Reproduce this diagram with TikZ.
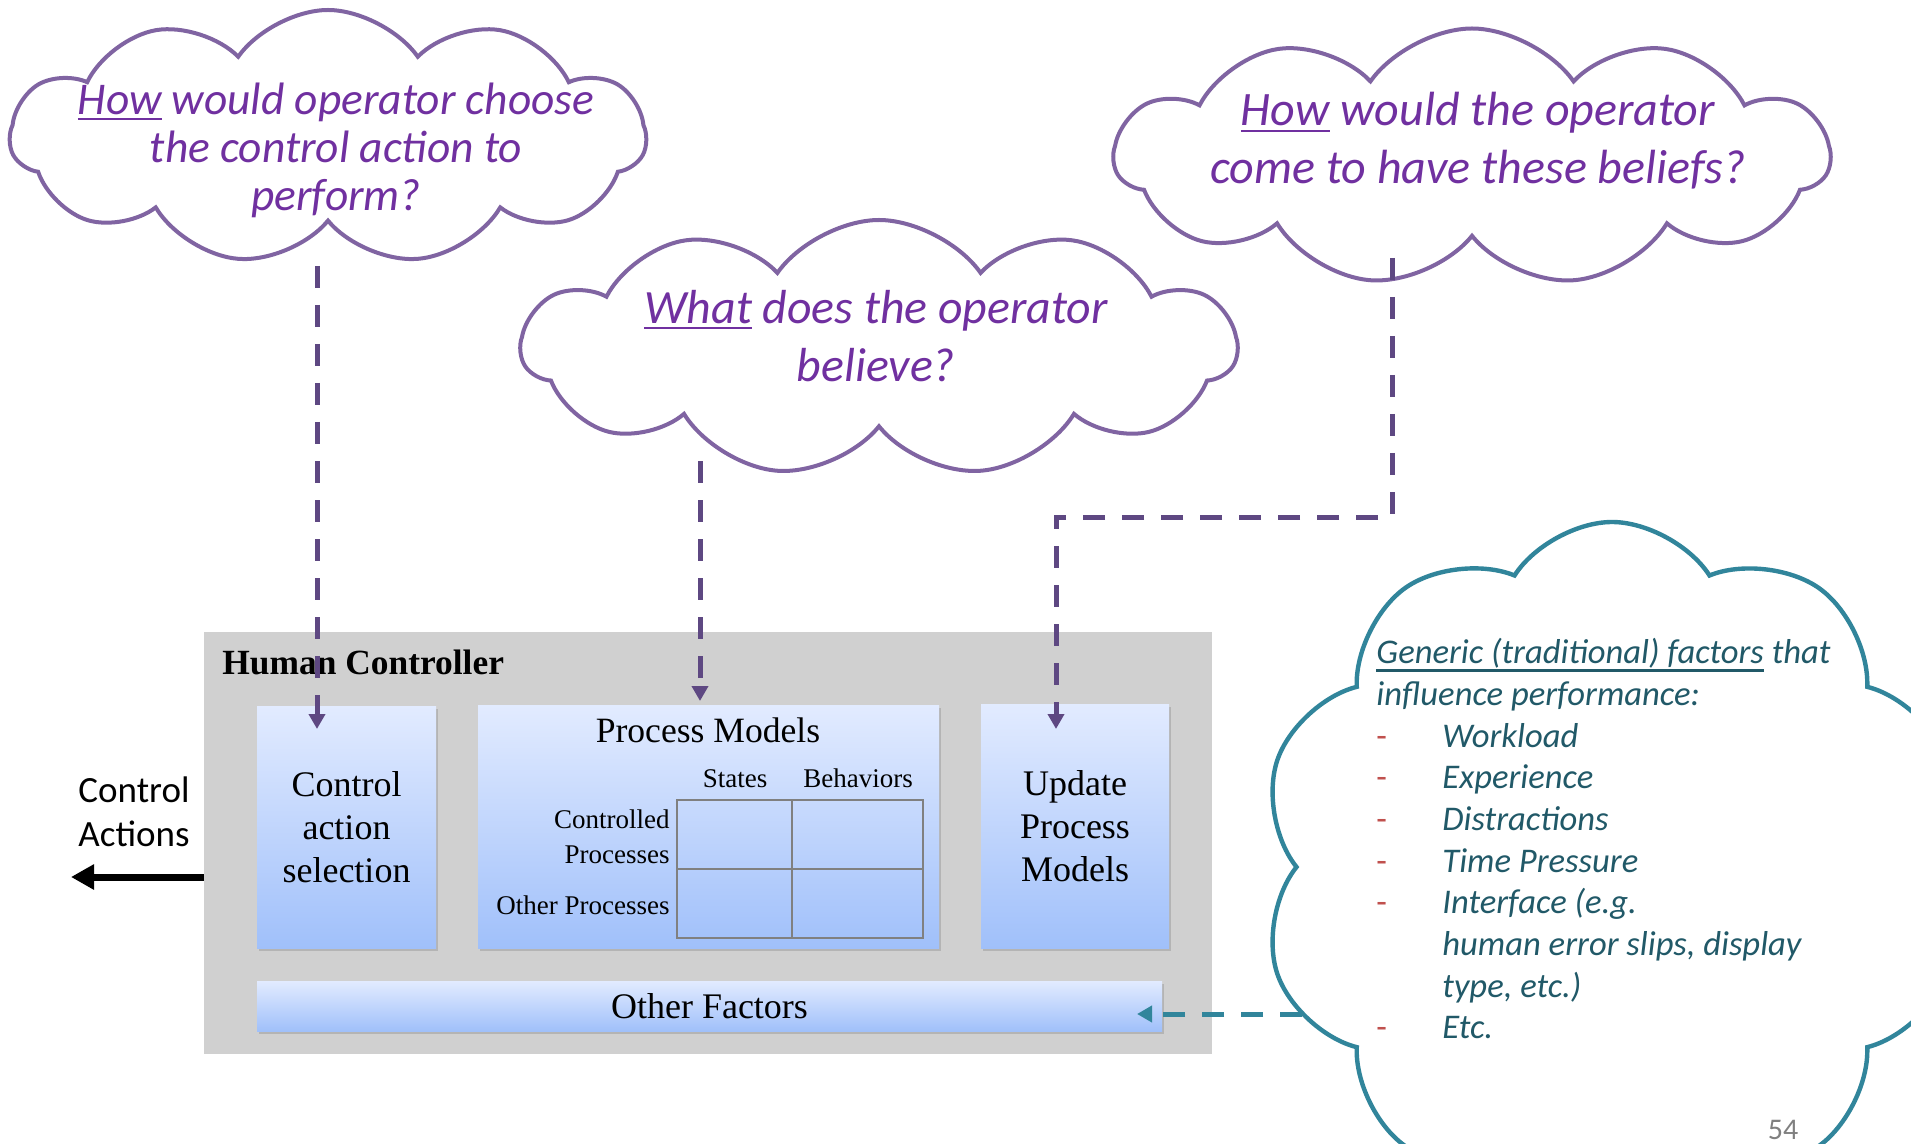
\documentclass[tikz,border=0pt]{standalone}
\usepackage{fontspec}
\setmainfont{Liberation Serif}
\setsansfont{Carlito}
\usetikzlibrary{shapes.symbols,arrows.meta,shadows,calc}

\definecolor{cloudpurple}{RGB}{128,100,162}
\definecolor{textpurple}{RGB}{112,48,160}
\definecolor{arrowpurple}{RGB}{94,72,130}
\definecolor{cloudteal}{RGB}{49,133,155}
\definecolor{textteal}{RGB}{33,89,104}
\definecolor{dashred}{RGB}{192,80,77}
\definecolor{panelgray}{RGB}{208,208,208}
\definecolor{boxtop}{RGB}{226,235,255}
\definecolor{boxbottom}{RGB}{160,192,250}

\newsavebox{\qulbox}
\newcommand{\qul}[2][3pt]{\sbox{\qulbox}{#2}\rlap{\rule[-#1]{\wd\qulbox}{1.1pt}}\usebox{\qulbox}}
\newcommand{\itemdash}{\makebox[33pt][l]{\textcolor{dashred}{\upshape -}}}
\newcommand{\itemgap}{\hspace*{33pt}}

\begin{document}
\begin{tikzpicture}[x=0.5pt,y=-0.5pt,
    question/.style={cloud, cloud puffs=11, cloud puff arc=110, cloud ignores aspect,
        draw=cloudpurple, line width=2pt, fill=white, inner sep=0pt},
    qtext/.style={align=center, inner sep=0pt, text=textpurple},
    modelbox/.style={rectangle, inner sep=0pt, top color=boxtop, bottom color=boxbottom,
        drop shadow={shadow xshift=0.8pt, shadow yshift=-1.5pt, opacity=0.35},
        align=center, font=\fontsize{18}{21.5}\selectfont},
    gridlabel/.style={inner sep=0pt, font=\fontsize{13.5}{17}\selectfont},
    qarrow/.style={arrowpurple, line width=2.5pt, dash pattern=on 11pt off 8.5pt,
        -{Triangle[length=7.5pt,width=8pt]}},
    tarrow/.style={cloudteal, line width=2.5pt, dash pattern=on 11pt off 8.5pt,
        -{Triangle[length=7.5pt,width=8pt]}}
]
\clip (0,0) rectangle (1911,1144);
\fill[white] (0,0) rectangle (1911,1144);

% Human controller panel
\node[rectangle, fill=panelgray, inner sep=0pt, minimum width=504pt, minimum height=211pt] (panel) at (708,843) {};
\node[anchor=base west, inner sep=0pt, font=\bfseries\fontsize{17.7}{20}\selectfont] (hclabel) at (222,674) {Human Controller};

% Inner boxes
\node[modelbox, minimum width=89.5pt, minimum height=121pt] (cab) at (346.5,827) {Control\\action\\selection};
\node[modelbox, minimum width=230.5pt, minimum height=121.5pt] (pm) at (708.5,826.5) {};
\node[modelbox, minimum width=94pt, minimum height=122pt] (upm) at (1075,826) {Update\\Process\\Models};
\node[modelbox, minimum width=452.5pt, minimum height=25pt] (other) at (709.5,1006) {Other Factors};

% Process model table
\node[anchor=base, inner sep=0pt, font=\fontsize{17.8}{21}\selectfont] (pmtitle) at (708,742) {Process Models};
\node[gridlabel, anchor=base] (states) at (735,787) {States};
\node[gridlabel, anchor=base] (behav) at (858,787) {Behaviors};
\node[gridlabel, anchor=base east] (ctrlp) at (670,828) {Controlled};
\node[gridlabel, anchor=base east] (ctrlp2) at (670,863) {Processes};
\node[gridlabel, anchor=base east] (otherp) at (670,914) {Other Processes};
\node[rectangle, draw=gray, line width=0.8pt, inner sep=0pt, minimum width=123pt, minimum height=69pt] (pmgrid) at (800,869) {};
\draw[gray, line width=0.8pt] ($(pmgrid.north west)!0.468!(pmgrid.north east)$) -- ($(pmgrid.south west)!0.468!(pmgrid.south east)$);
\draw[gray, line width=0.8pt] (pmgrid.west) -- (pmgrid.east);

% Control actions out
\node[align=center, inner sep=0pt, font=\sffamily\fontsize{18.5}{22}\selectfont] (cact) at (134,812) {Control\\Actions};
\coordinate (cactend) at (71,877);
\draw[line width=3.5pt, -{Triangle[length=11.5pt,width=12pt]}] (cactend -| panel.west) -- (cactend);

% Question clouds
\node[question, minimum width=318pt, minimum height=127pt] (qhow) at (328,137) {};
\node[question, minimum width=357.5pt, minimum height=128pt] (qwhat) at (879,348) {};
\node[question, minimum width=357.5pt, minimum height=128.5pt] (qbelief) at (1472,157) {};
\node[qtext, font=\sffamily\itshape\fontsize{22.7}{24}\selectfont] (qhowtext) at (336,150)
    {\qul{How} would operator choose\\the control action to\\perform?};
\node[qtext, font=\sffamily\itshape\fontsize{23.9}{29}\selectfont] (qwhattext) at (876,336)
    {\qul{What} does the operator\\believe?};
\node[qtext, font=\sffamily\itshape\fontsize{24}{29}\selectfont] (qbelieftext) at (1478,141)
    {\qul{How} would the operator\\come to have these beliefs?};

% Dashed links from the questions
\coordinate (howfoot) at (317,266);
\coordinate (cabtip) at (317,729);
\coordinate (whatfoot) at (700,461);
\coordinate (pmtip) at (700,701);
\coordinate (belieffoot) at (1392,258);
\coordinate (upmtip) at (1056,729);
\coordinate (facfoot) at (1380,1014);
\coordinate (othertip) at (1137,1014);
\draw[qarrow] (howfoot) -- (cabtip);
\draw[qarrow] (whatfoot) -- (pmtip);
\draw[qarrow] (belieffoot) |- ($(upmtip)+(0,-212)$) -- (upmtip);
\draw[tarrow] (facfoot) -- (othertip);

% Factors cloud
\node[cloud, cloud puffs=10, cloud puff arc=115, cloud ignores aspect, draw=cloudteal, line width=2.2pt, fill=white,
    minimum width=352pt, minimum height=345pt] (qfactors) at (1612,867) {};
\node[anchor=north west, align=left, inner sep=0pt, text=textteal, font=\sffamily\itshape\fontsize{17.3}{20.85}\selectfont] (factors) at (1376,638)
    {\qul[4pt]{Generic (traditional) factors} that\\
     influence performance:\\
     \itemdash Workload\\
     \itemdash Experience\\
     \itemdash Distractions\\
     \itemdash Time Pressure\\
     \itemdash Interface (e.g.\\
     \itemgap human error slips, display\\
     \itemgap type, etc.)\\
     \itemdash Etc.};

\node[inner sep=0pt, text=gray, font=\sffamily\fontsize{15}{18}\selectfont] (pagenum) at (1783,1130) {54};
\end{tikzpicture}
\end{document}
